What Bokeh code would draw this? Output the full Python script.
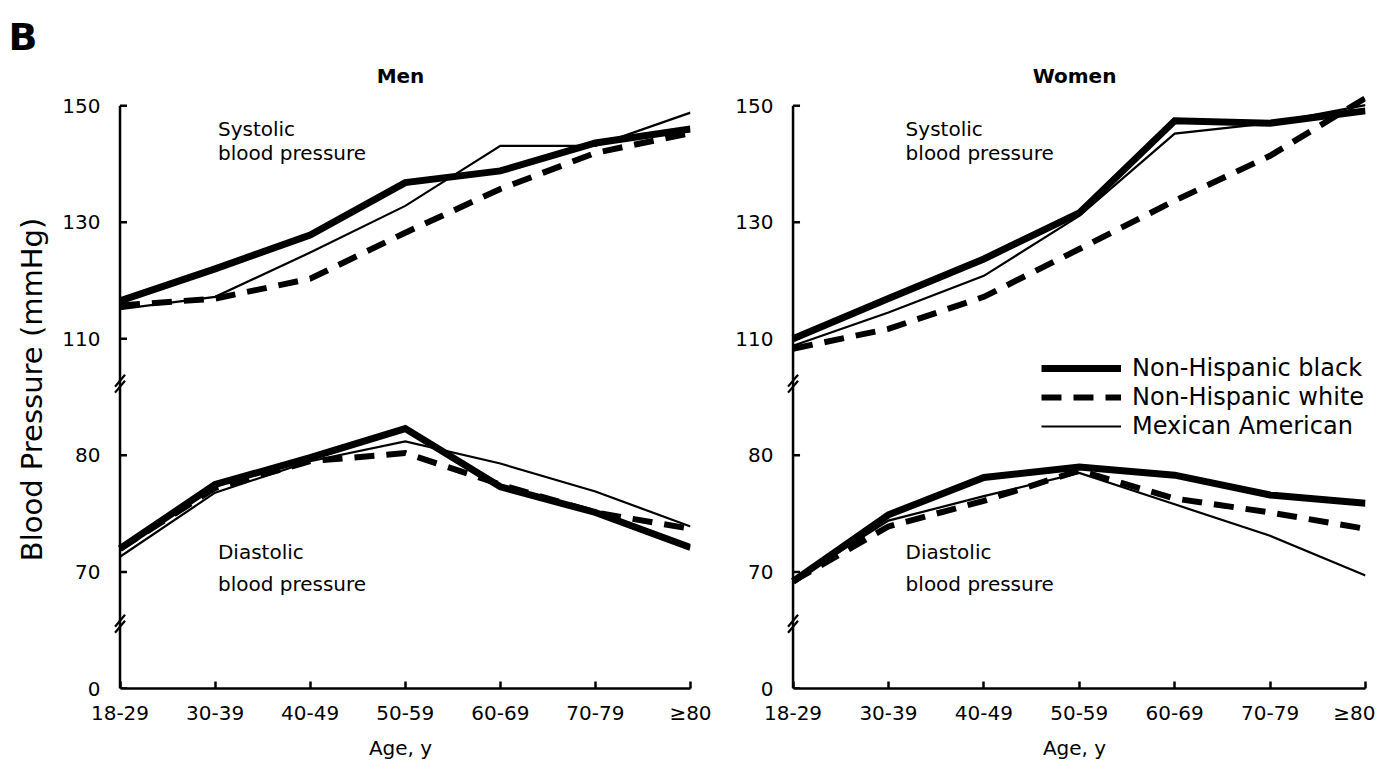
from bokeh.plotting import figure
from bokeh.models import Range1d, FixedTicker, Label, Legend, LegendItem, Title
from bokeh.layouts import row
from bokeh.embed import file_html
from bokeh.resources import INLINE

# ---------------- data ----------------
age_groups = ["18-29", "30-39", "40-49", "50-59", "60-69", "70-79", "\u226580"]

men_sys_black = [116.5, 122.0, 127.8, 136.8, 138.8, 143.6, 146.0]
men_sys_white = [115.7, 116.9, 120.3, 128.2, 135.7, 141.9, 145.3]
men_sys_mex = [115.1, 117.2, 124.8, 132.8, 143.1, 143.1, 148.8]
men_dia_black = [72.0, 77.5, 79.8, 82.3, 77.3, 75.1, 72.1]
men_dia_white = [72.0, 77.2, 79.5, 80.2, 77.5, 75.1, 73.7]
men_dia_mex = [71.3, 76.8, 79.5, 81.2, 79.3, 76.9, 73.9]

women_sys_black = [110.0, 116.9, 123.7, 131.6, 147.4, 147.0, 149.1]
women_sys_white = [108.3, 111.7, 117.2, 125.4, 133.7, 141.4, 151.3]
women_sys_mex = [108.8, 114.5, 120.8, 131.1, 145.2, 147.0, 150.1]
women_dia_black = [69.2, 74.9, 78.1, 79.0, 78.3, 76.6, 75.9]
women_dia_white = [69.2, 73.9, 76.1, 78.7, 76.3, 75.1, 73.7]
women_dia_mex = [69.2, 74.4, 76.5, 78.5, 75.8, 73.1, 69.7]

series_names = ["Non-Hispanic black", "Non-Hispanic white", "Mexican American"]

# y-axis tick positions (on the systolic scale) and their printed values
y_tick_pos = [50, 70, 90, 110, 130, 150]
y_tick_text = ["0", "70", "80", "110", "130", "150"]
# axis-break positions (systolic scale)
y_breaks = [102.3, 61.1]

# ---------------- styling ----------------
FONT = "DejaVu Sans"
SYS_LO, SYS_HI = 50, 152.6
PX_PER_SYS = 5.83


def dia_of(s):
    # diastolic scale: 10 mmHg per tick step, systolic: 20 mmHg per tick step
    return 70 + (s - 70) / 2.0


STYLES = [
    dict(line_width=7, line_dash="solid"),
    dict(line_width=6, line_dash="20 12"),
    dict(line_width=2.2, line_dash="solid"),
]


def make_panel(title, title_off, sys_sets, dia_sets, left, width, mb_left,
               mb_right, px_per_x, ann_x):
    p = figure(width=width, height=768, x_range=Range1d(-0.1, 6),
               y_range=Range1d(SYS_LO, SYS_HI), title=None,
               output_backend="svg", toolbar_location=None,
               min_border_left=mb_left, min_border_right=mb_right,
               min_border_top=90, min_border_bottom=80)
    p.extra_y_ranges = {"dia": Range1d(dia_of(SYS_LO), dia_of(SYS_HI))}
    p.grid.visible = False
    p.outline_line_color = None
    p.background_fill_color = "white"

    xs = list(range(len(age_groups)))

    # y axis line, ticks and break marks drawn at x = 0
    p.segment(x0=[0], y0=[SYS_LO], x1=[0], y1=[150], line_color="black",
              line_width=2.5)
    tick_len = 7.0 / px_per_x
    p.segment(x0=[0] * len(y_tick_pos), y0=y_tick_pos,
              x1=[tick_len] * len(y_tick_pos), y1=y_tick_pos,
              line_color="black", line_width=2.5)
    hx = 5.0 / px_per_x
    hy = 6.0 / PX_PER_SYS
    sep = 3.0 / PX_PER_SYS
    bx0, by0, bx1, by1 = [], [], [], []
    for yb in y_breaks:
        for s in (-sep, sep):
            bx0.append(-hx); by0.append(yb + s - hy)
            bx1.append(hx); by1.append(yb + s + hy)
    p.segment(x0=bx0, y0=by0, x1=bx1, y1=by1, line_color="black", line_width=2.2)

    sys_renderers = []
    for vals, st in zip(sys_sets, STYLES):
        r = p.line(xs, vals, line_color="black", line_join="miter", **st)
        sys_renderers.append(r)
    for vals, st in zip(dia_sets, STYLES):
        p.line(xs, vals, line_color="black", line_join="miter",
               y_range_name="dia", **st)

    # axes
    p.xaxis.ticker = FixedTicker(ticks=xs)
    p.xaxis.major_label_overrides = {i: lab for i, lab in enumerate(age_groups)}
    p.xaxis.axis_label = "Age, y"
    p.xaxis.bounds = (0, 6)
    p.yaxis.ticker = FixedTicker(ticks=y_tick_pos)
    p.yaxis.major_label_overrides = dict(zip(y_tick_pos, y_tick_text))
    p.yaxis.axis_line_color = None
    p.yaxis.major_tick_line_color = None
    if left:
        p.yaxis.axis_label = "Blood Pressure (mmHg)"
        p.yaxis.axis_label_text_font_size = "29px"
        p.yaxis.axis_label_standoff = 10
    for ax in (p.xaxis, p.yaxis):
        ax.minor_tick_line_color = None
        ax.major_tick_in = 7
        ax.major_tick_out = 0
        ax.major_label_text_font = FONT
        ax.major_label_text_font_size = "20px"
        ax.major_label_text_color = "black"
        ax.axis_label_text_font = FONT
        ax.axis_label_text_font_style = "normal"
        ax.axis_label_text_color = "black"
    p.xaxis.axis_line_width = 2.5
    p.xaxis.axis_line_color = "black"
    p.xaxis.major_tick_line_width = 2.5
    p.xaxis.major_tick_line_color = "black"
    p.xaxis.axis_label_text_font_size = "20px"
    p.xaxis.major_label_standoff = 12
    p.xaxis.axis_label_standoff = 8
    p.yaxis.major_label_standoff = 10

    # panel title
    p.add_layout(Title(text=title, align="center", offset=title_off,
                       text_font=FONT, text_font_size="20px",
                       text_font_style="bold", text_color="black",
                       standoff=6), "above")
    # section annotations
    for txt, yy in (("Systolic", 146.0), ("blood pressure", 141.9),
                    ("Diastolic", 73.5), ("blood pressure", 68.0)):
        p.add_layout(Label(x=ann_x, y=yy, text=txt, text_font=FONT,
                           text_font_size="20px", text_baseline="alphabetic",
                           text_align="left", text_color="black"))
    return p, sys_renderers


p_men, _ = make_panel("Men", 4, [men_sys_black, men_sys_white, men_sys_mex],
                      [men_dia_black, men_dia_white, men_dia_mex],
                      True, 732, 110, 42, 95.08, 1.03)
p_women, rs = make_panel("Women", 6, [women_sys_black, women_sys_white, women_sys_mex],
                         [women_dia_black, women_dia_white, women_dia_mex],
                         False, 643, 50, 10, 95.5, 1.18)

legend = Legend(items=[LegendItem(label=n, renderers=[r]) for n, r in zip(series_names, rs)],
                location=(258, 248), glyph_width=80, glyph_height=24,
                label_height=24, spacing=1, padding=0, margin=0,
                label_standoff=11, label_text_font=FONT,
                label_text_font_size="24px", label_text_color="black",
                border_line_color=None, background_fill_alpha=0)
p_women.add_layout(legend)

p_men.add_layout(Title(text="B", align="left", offset=-102, text_font=FONT,
                       text_font_size="38px", text_font_style="bold",
                       text_color="black", standoff=0), "above")

layout = row(p_men, p_women)
open("out.html", "w").write(file_html(layout, INLINE))
